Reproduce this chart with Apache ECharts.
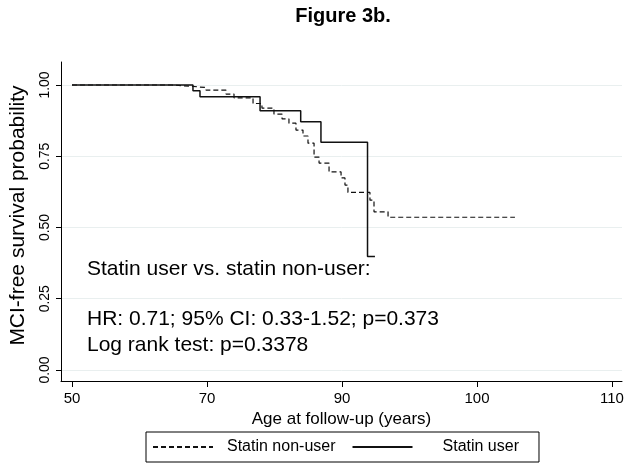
<!DOCTYPE html>
<html>
<head>
<meta charset="utf-8">
<script src="https://cdn.jsdelivr.net/npm/echarts@6/dist/echarts.min.js"></script>
<style>html,body{margin:0;padding:0;background:#fff}#c{width:627px;height:468px}</style>
</head>
<body>
<div id="c"></div>
<script>
// ---- data ----
const nonUserAge  = [70.0, 77.41, 78.96, 79.93, 81.41, 82.00, 83.41, 84.07, 84.96, 85.56, 86.07, 86.59, 87.11, 87.48, 87.93, 88.30, 89.04, 89.93, 90.22, 90.44, 92.07, 92.37, 93.41, 102.81];
const nonUserSurv = [1.0, 0.995, 0.991, 0.982, 0.968, 0.955, 0.935, 0.919, 0.898, 0.881, 0.866, 0.842, 0.821, 0.796, 0.747, 0.726, 0.695, 0.674, 0.649, 0.623, 0.596, 0.555, 0.536, 0.536];
const userAge  = [70.0, 78.96, 79.48, 83.93, 86.94, 88.44, 91.89, 92.44];
const userSurv = [1.0, 0.980, 0.959, 0.910, 0.871, 0.799, 0.398, 0.398];
const xTickValues = [70, 80, 90, 100, 110];
const xTickLabels = ['50', '70', '90', '100', '110'];
const yTickValues = [0, 0.25, 0.5, 0.75, 1.0];
const yTickLabels = ['0.00', '0.25', '0.50', '0.75', '1.00'];
const seriesNames = ['Statin non-user', 'Statin user'];
const annotationLines = ['Statin user vs. statin non-user:', 'HR: 0.71; 95% CI: 0.33-1.52; p=0.373', 'Log rank test: p=0.3378'];

const FONT = 'Liberation Sans, Arial, sans-serif';
const chart = echarts.init(document.getElementById('c'), null, {renderer: 'canvas'});
const zip = (a, b) => a.map((v, i) => [v, b[i]]);

chart.setOption({
  backgroundColor: '#ffffff',
  animation: false,
  textStyle: {fontFamily: FONT},
  title: {
    text: 'Figure 3b.', left: 338, textAlign: 'center', top: 1,
    textStyle: {fontFamily: FONT, fontSize: 20, fontWeight: 'bold', color: '#000'}
  },
  grid: {left: 61, right: 5, top: 62, bottom: 87, containLabel: false},
  xAxis: {
    type: 'value', min: 69.185, max: 110.74,
    name: 'Age at follow-up (years)', nameLocation: 'middle', nameGap: 27,
    nameTextStyle: {fontFamily: FONT, fontSize: 17, color: '#000'},
    axisLine: {show: true, onZero: false, lineStyle: {color: '#000', width: 1}},
    axisTick: {show: true, length: 6, customValues: xTickValues, lineStyle: {color: '#000'}},
    axisLabel: {customValues: xTickValues, margin: 10, fontFamily: FONT, fontSize: 15, color: '#000',
      formatter: v => xTickLabels[xTickValues.indexOf(Math.round(v))] || ''},
    splitLine: {show: false}
  },
  yAxis: {
    type: 'value', min: -0.0386, max: 1.0807,
    name: 'MCI-free survival probability', nameLocation: 'middle', nameGap: 32, nameRotate: 90,
    nameTextStyle: {fontFamily: FONT, fontSize: 21, color: '#000', padding: [0, 0, 0, 12]},
    axisLine: {show: true, onZero: false, lineStyle: {color: '#000', width: 1}},
    axisTick: {show: true, length: 5, customValues: yTickValues, lineStyle: {color: '#000'}},
    axisLabel: {customValues: yTickValues, rotate: 90, margin: 9, fontFamily: FONT, fontSize: 14, color: '#000',
      formatter: v => yTickLabels[yTickValues.indexOf(Math.round(v * 100) / 100)] || ''},
    splitLine: {show: true, lineStyle: {color: '#e9efef', width: 1}}
  },
  legend: {
    left: 146, top: 432, orient: 'horizontal',
    data: seriesNames,
    itemWidth: 60, itemHeight: 14, itemGap: 16,
    padding: [7, 20, 7, 6],
    borderColor: '#000', borderWidth: 1,
    itemStyle: {opacity: 0},
    formatter: name => name === seriesNames[1] ? '{b|' + name + '}' : '{a|' + name + '}',
    textStyle: {fontFamily: FONT, fontSize: 16, color: '#000',
      rich: {a: {fontFamily: FONT, fontSize: 16, color: '#000', padding: [0, 0, 0, 9]},
             b: {fontFamily: FONT, fontSize: 16, color: '#000', padding: [0, 0, 0, 25]}}}
  },
  graphic: annotationLines.map((t, i) => ({
    type: 'text', x: 87, y: [269, 319, 345][i],
    style: {text: t, fontFamily: FONT, fontSize: 21, fill: '#000', verticalAlign: 'middle', align: 'left'}
  })),
  series: [
    {
      name: seriesNames[0], type: 'line', step: 'end', symbol: 'none', showSymbol: false,
      data: zip(nonUserAge, nonUserSurv),
      lineStyle: {color: '#111', width: 1.2, type: [5, 3]},
      itemStyle: {color: '#111'}, z: 3
    },
    {
      name: seriesNames[1], type: 'line', step: 'end', symbol: 'none', showSymbol: false,
      data: zip(userAge, userSurv),
      lineStyle: {color: '#111', width: 1.5, type: 'solid'},
      itemStyle: {color: '#111'}, z: 2
    }
  ]
});
</script>
</body>
</html>
